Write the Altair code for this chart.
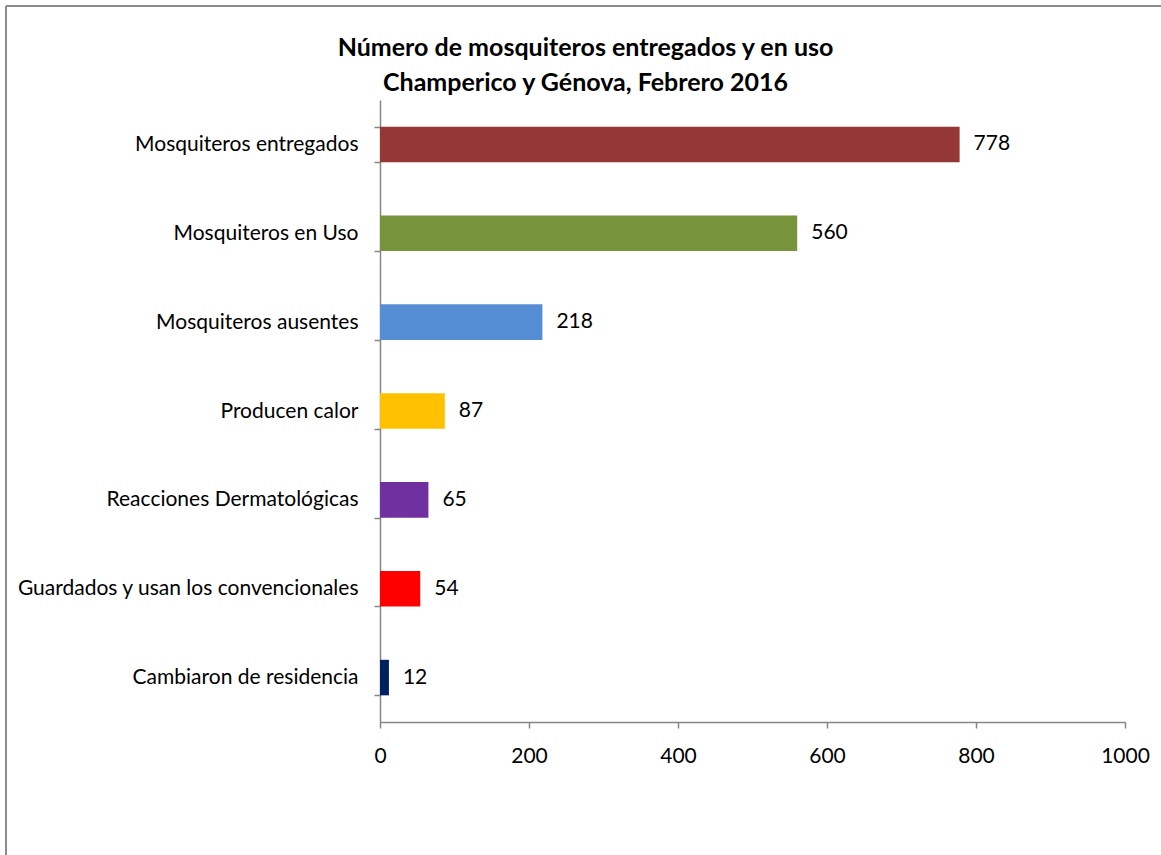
import altair as alt
import pandas as pd

categories = [
    "Mosquiteros entregados",
    "Mosquiteros en Uso",
    "Mosquiteros ausentes",
    "Producen calor",
    "Reacciones Dermatológicas",
    "Guardados y usan los convencionales",
    "Cambiaron de residencia",
]
values = [778, 560, 218, 87, 65, 54, 12]
colors = ["#953735", "#77933C", "#558ED5", "#FFC000", "#7030A0", "#FF0000", "#002060"]

df = pd.DataFrame({"cat": categories, "val": values, "color": colors})

FONT = "Lato"
AX = "#868686"
FS = 21

y_enc = alt.Y("cat:N", sort=categories, title=None,
              scale=alt.Scale(paddingInner=0.6, paddingOuter=0.3),
              axis=alt.Axis(tickBand="extent", domainColor=AX, tickColor=AX,
                            domainWidth=1.5, tickWidth=1.5, tickSize=6,
                            labelFont=FONT, labelFontSize=FS, labelColor="#000000",
                            labelPadding=16, labelLimit=400))
x_enc = alt.X("val:Q", title=None,
              scale=alt.Scale(domain=[0, 1000], nice=False),
              axis=alt.Axis(values=[0, 200, 400, 600, 800, 1000], grid=False, format="d",
                            labelFlush=False,
                            domainColor=AX, tickColor=AX, domainWidth=1.5, tickWidth=1.5,
                            tickSize=6, labelFont=FONT, labelFontSize=FS,
                            labelColor="#000000", labelPadding=17))

base = alt.Chart(df)

bars = base.mark_bar().encode(
    x=x_enc, y=y_enc,
    color=alt.Color("color:N", scale=None, legend=None),
)

labels = base.mark_text(align="left", baseline="middle", dx=14, font=FONT,
                        fontSize=FS, color="#000000").encode(
    x="val:Q", y=alt.Y("cat:N", sort=categories), text="val:Q"
)

border_v = base.mark_rule(color="#8c8c8c", strokeWidth=1.5).encode(
    x=alt.value(-374), y=alt.value(-94), y2=alt.value(760)
)
border_h = base.mark_rule(color="#8c8c8c", strokeWidth=1.5).encode(
    x=alt.value(-374), x2=alt.value(790), y=alt.value(-94)
)

chart = alt.layer(bars, labels, border_v, border_h).properties(
    width=745, height=622,
    background="white",
    title=alt.TitleParams(
        text=["Número de mosquiteros entregados y en uso",
              "Champerico y Génova, Febrero 2016"],
        font=FONT, fontSize=25, fontWeight="bold", color="#000000",
        anchor="middle", frame="group", dx=-167, offset=0, dy=91, lineHeight=35,
    ),
    autosize=alt.AutoSizeParams(type="none"),
    padding={"left": 380, "top": 100, "right": 36, "bottom": 133},
).configure_view(strokeWidth=0, strokeOpacity=0)

chart.save("out.html", embed_options={"renderer": "svg", "actions": False})
